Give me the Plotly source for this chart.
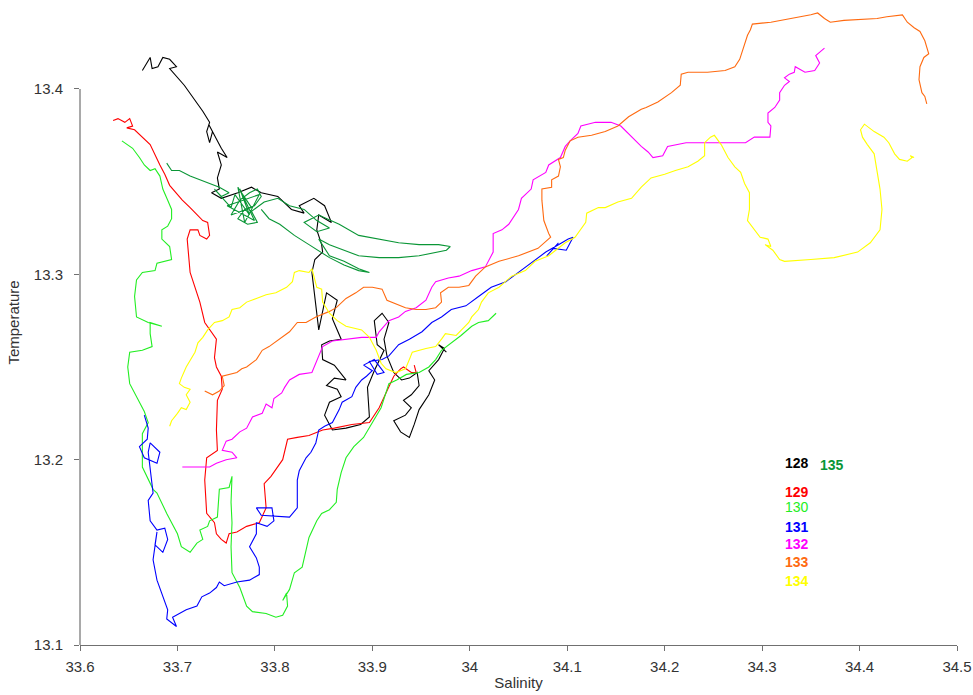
import plotly.graph_objects as go

# ---- data: salinity (x) / temperature (y) per station ----
s128 = [33.664,33.672,33.674,33.680,33.685,33.692,33.699,33.692,33.707,33.718,33.726,33.733,33.730,33.733,33.736,33.732,33.745,33.751,33.741,33.745,33.741,33.743,33.735,33.745,33.762,33.776,33.786,33.803,33.817,33.830,33.825,33.840,33.851,33.858,33.845,33.843,33.848,33.849,33.841,33.838,33.840,33.842,33.845,33.853,33.864,33.859,33.868,33.856,33.848,33.849,33.861,33.873,33.861,33.853,33.864,33.868,33.856,33.851,33.859,33.873,33.888,33.897,33.895,33.902,33.912,33.905,33.902,33.910,33.917,33.912,33.915,33.922,33.930,33.938,33.946,33.948,33.940,33.932,33.940,33.934,33.922,33.929,33.938,33.943,33.948,33.958,33.964,33.958,33.968,33.974,33.968,33.976]
t128 = [13.410,13.417,13.411,13.412,13.417,13.416,13.412,13.411,13.402,13.394,13.388,13.382,13.377,13.371,13.377,13.381,13.368,13.363,13.366,13.359,13.352,13.346,13.344,13.341,13.344,13.347,13.344,13.342,13.335,13.333,13.337,13.341,13.337,13.328,13.332,13.324,13.316,13.312,13.308,13.301,13.292,13.282,13.270,13.290,13.286,13.276,13.265,13.264,13.262,13.254,13.251,13.243,13.244,13.240,13.238,13.234,13.231,13.224,13.216,13.217,13.219,13.223,13.239,13.248,13.259,13.262,13.275,13.279,13.274,13.265,13.256,13.247,13.243,13.244,13.247,13.240,13.235,13.232,13.228,13.224,13.221,13.215,13.212,13.219,13.227,13.235,13.243,13.248,13.254,13.260,13.262,13.258]

s129 = [33.634,33.639,33.646,33.651,33.654,33.648,33.656,33.672,33.682,33.687,33.692,33.700,33.705,33.713,33.721,33.726,33.731,33.733,33.730,33.723,33.721,33.713,33.710,33.713,33.723,33.728,33.740,33.738,33.740,33.745,33.746,33.741,33.740,33.741,33.730,33.728,33.730,33.738,33.740,33.745,33.750,33.753,33.761,33.771,33.784,33.791,33.789,33.796,33.808,33.813,33.823,33.835,33.849,33.861,33.879,33.897,33.907,33.914,33.917,33.922,33.929,33.932,33.940,33.945,33.943]
t129 = [13.383,13.384,13.382,13.384,13.380,13.379,13.378,13.370,13.359,13.354,13.348,13.343,13.340,13.336,13.332,13.329,13.328,13.321,13.319,13.321,13.324,13.324,13.319,13.301,13.285,13.274,13.265,13.255,13.250,13.245,13.238,13.232,13.216,13.205,13.201,13.189,13.171,13.166,13.160,13.157,13.155,13.160,13.161,13.164,13.166,13.174,13.187,13.191,13.200,13.211,13.212,13.213,13.216,13.217,13.219,13.220,13.228,13.236,13.239,13.245,13.249,13.250,13.247,13.247,13.251]

s130 = [33.643,33.654,33.661,33.666,33.672,33.677,33.682,33.685,33.690,33.694,33.694,33.690,33.684,33.684,33.692,33.694,33.679,33.677,33.664,33.658,33.656,33.658,33.670,33.684,33.672,33.672,33.674,33.664,33.651,33.649,33.651,33.666,33.670,33.664,33.664,33.675,33.679,33.689,33.700,33.704,33.713,33.720,33.726,33.723,33.731,33.733,33.741,33.743,33.753,33.756,33.755,33.756,33.755,33.756,33.764,33.771,33.777,33.791,33.801,33.808,33.813,33.812,33.808,33.815,33.820,33.828,33.832,33.835,33.843,33.848,33.856,33.863,33.864,33.868,33.873,33.881,33.891,33.900,33.909,33.917,33.925,33.935,33.948,33.958,33.965,33.971,33.981,33.991,34.002,34.009,34.019,34.027]
t130 = [13.372,13.368,13.363,13.359,13.356,13.357,13.353,13.346,13.340,13.335,13.330,13.326,13.324,13.319,13.315,13.308,13.306,13.302,13.301,13.297,13.288,13.277,13.274,13.272,13.274,13.268,13.261,13.259,13.258,13.250,13.241,13.226,13.220,13.214,13.196,13.184,13.182,13.171,13.160,13.153,13.150,13.155,13.157,13.162,13.164,13.167,13.169,13.184,13.185,13.191,13.177,13.166,13.153,13.139,13.131,13.121,13.118,13.117,13.115,13.116,13.121,13.128,13.124,13.130,13.139,13.142,13.151,13.158,13.167,13.171,13.173,13.177,13.184,13.193,13.201,13.207,13.212,13.220,13.228,13.241,13.243,13.246,13.247,13.250,13.254,13.259,13.263,13.267,13.272,13.274,13.275,13.279]

s131 = [33.666,33.670,33.669,33.661,33.666,33.679,33.682,33.672,33.670,33.675,33.670,33.672,33.679,33.687,33.690,33.685,33.677,33.679,33.675,33.679,33.685,33.690,33.689,33.699,33.695,33.709,33.720,33.725,33.733,33.740,33.743,33.748,33.761,33.774,33.784,33.784,33.781,33.774,33.781,33.781,33.792,33.799,33.797,33.781,33.786,33.815,33.823,33.823,33.825,33.832,33.837,33.842,33.845,33.851,33.859,33.866,33.869,33.879,33.883,33.889,33.894,33.900,33.891,33.902,33.912,33.905,33.897,33.910,33.917,33.927,33.938,33.951,33.961,33.971,33.981,33.996,34.009,34.022,34.037,34.050,34.063,34.078,34.091,34.101,34.106,34.099,34.086,34.079,34.091]
t131 = [13.224,13.217,13.211,13.207,13.201,13.198,13.204,13.209,13.204,13.182,13.178,13.167,13.162,13.163,13.157,13.150,13.154,13.161,13.146,13.135,13.126,13.119,13.114,13.110,13.115,13.119,13.121,13.126,13.128,13.131,13.134,13.132,13.134,13.135,13.138,13.142,13.147,13.153,13.160,13.166,13.164,13.167,13.174,13.174,13.170,13.169,13.174,13.189,13.194,13.201,13.204,13.209,13.216,13.218,13.220,13.227,13.231,13.234,13.239,13.243,13.245,13.248,13.251,13.254,13.247,13.246,13.253,13.254,13.256,13.262,13.265,13.269,13.274,13.277,13.281,13.283,13.288,13.293,13.296,13.301,13.306,13.312,13.316,13.319,13.320,13.313,13.314,13.310,13.317]

s132 = [33.705,33.720,33.733,33.740,33.750,33.761,33.756,33.746,33.750,33.756,33.764,33.771,33.777,33.787,33.791,33.797,33.799,33.807,33.810,33.815,33.825,33.838,33.849,33.859,33.873,33.889,33.904,33.907,33.917,33.927,33.934,33.945,33.955,33.961,33.965,33.978,33.989,34.002,34.016,34.024,34.024,34.033,34.040,34.050,34.053,34.063,34.065,34.078,34.081,34.093,34.098,34.103,34.111,34.114,34.129,34.145,34.155,34.166,34.176,34.183,34.188,34.198,34.203,34.222,34.241,34.262,34.283,34.292,34.308,34.309,34.306,34.306,34.313,34.318,34.318,34.323,34.328,34.323,34.328,34.333,34.334,34.344,34.354,34.359,34.355,34.364]
t132 = [13.196,13.196,13.196,13.198,13.200,13.201,13.204,13.205,13.210,13.211,13.215,13.217,13.223,13.225,13.230,13.228,13.233,13.236,13.239,13.243,13.246,13.247,13.261,13.264,13.265,13.266,13.266,13.269,13.275,13.277,13.280,13.282,13.286,13.293,13.296,13.298,13.299,13.302,13.304,13.312,13.322,13.324,13.327,13.335,13.341,13.346,13.351,13.355,13.359,13.363,13.369,13.372,13.376,13.380,13.382,13.382,13.380,13.374,13.369,13.366,13.363,13.364,13.369,13.371,13.371,13.371,13.371,13.374,13.374,13.380,13.382,13.387,13.390,13.394,13.398,13.402,13.404,13.406,13.408,13.409,13.412,13.409,13.410,13.414,13.418,13.422]

s133 = [33.728,33.736,33.743,33.748,33.746,33.761,33.766,33.771,33.781,33.787,33.794,33.807,33.815,33.823,33.832,33.842,33.856,33.863,33.873,33.883,33.891,33.900,33.910,33.915,33.920,33.934,33.945,33.955,33.965,33.971,33.970,33.978,33.989,33.999,34.006,34.016,34.030,34.050,34.070,34.083,34.081,34.076,34.074,34.074,34.084,34.084,34.091,34.093,34.091,34.096,34.098,34.103,34.111,34.125,34.139,34.152,34.163,34.176,34.181,34.193,34.207,34.216,34.217,34.224,34.244,34.262,34.272,34.277,34.285,34.288,34.290,34.309,34.350,34.357,34.364,34.370,34.384,34.418,34.428,34.444,34.449,34.456,34.462,34.467,34.471,34.466,34.462,34.461,34.464,34.467,34.469]
t133 = [13.237,13.235,13.237,13.240,13.245,13.247,13.249,13.250,13.254,13.259,13.261,13.266,13.269,13.274,13.274,13.277,13.280,13.282,13.287,13.290,13.293,13.293,13.292,13.286,13.285,13.282,13.281,13.281,13.282,13.285,13.290,13.293,13.293,13.294,13.299,13.304,13.307,13.310,13.314,13.320,13.322,13.329,13.340,13.346,13.347,13.351,13.353,13.358,13.362,13.363,13.367,13.372,13.374,13.375,13.377,13.380,13.385,13.389,13.390,13.393,13.398,13.402,13.408,13.409,13.409,13.410,13.412,13.416,13.429,13.432,13.435,13.436,13.440,13.441,13.438,13.436,13.437,13.438,13.439,13.440,13.436,13.433,13.431,13.426,13.419,13.417,13.412,13.405,13.398,13.396,13.392]

s134 = [33.692,33.694,33.700,33.704,33.709,33.713,33.709,33.713,33.707,33.702,33.704,33.709,33.718,33.721,33.726,33.731,33.738,33.746,33.753,33.756,33.764,33.771,33.781,33.791,33.801,33.812,33.818,33.820,33.825,33.835,33.838,33.840,33.843,33.848,33.849,33.856,33.864,33.873,33.889,33.897,33.904,33.909,33.914,33.924,33.934,33.938,33.941,33.955,33.965,33.971,33.975,33.986,33.992,33.999,34.002,34.009,34.012,34.019,34.030,34.043,34.057,34.067,34.081,34.098,34.108,34.119,34.120,34.132,34.139,34.152,34.166,34.176,34.186,34.200,34.211,34.224,34.234,34.241,34.241,34.247,34.251,34.258,34.265,34.272,34.278,34.282,34.287,34.287,34.285,34.292,34.298,34.306,34.309,34.303,34.311,34.318,34.323,34.350,34.374,34.398,34.411,34.421,34.423,34.421,34.418,34.415,34.408,34.403,34.401,34.405,34.415,34.425,34.430,34.436,34.441,34.449,34.454,34.452,34.456]
t134 = [13.218,13.221,13.225,13.228,13.227,13.231,13.235,13.238,13.239,13.241,13.244,13.250,13.258,13.263,13.266,13.270,13.274,13.275,13.277,13.281,13.282,13.285,13.287,13.289,13.290,13.293,13.296,13.301,13.302,13.301,13.303,13.299,13.293,13.292,13.285,13.279,13.275,13.272,13.270,13.266,13.259,13.252,13.249,13.247,13.249,13.254,13.258,13.260,13.261,13.265,13.268,13.267,13.270,13.274,13.277,13.281,13.285,13.290,13.293,13.299,13.302,13.307,13.310,13.317,13.320,13.328,13.333,13.336,13.336,13.339,13.341,13.347,13.352,13.354,13.356,13.358,13.361,13.364,13.371,13.374,13.375,13.370,13.363,13.358,13.355,13.349,13.344,13.335,13.329,13.324,13.320,13.319,13.315,13.316,13.313,13.308,13.307,13.308,13.309,13.312,13.317,13.324,13.335,13.346,13.356,13.365,13.370,13.374,13.378,13.381,13.377,13.374,13.371,13.365,13.362,13.361,13.363,13.364,13.363]

s135 = [33.689,33.694,33.702,33.713,33.723,33.733,33.743,33.753,33.745,33.738,33.748,33.755,33.759,33.774,33.764,33.779,33.751,33.784,33.769,33.762,33.776,33.755,33.764,33.774,33.782,33.786,33.779,33.769,33.762,33.772,33.782,33.776,33.789,33.803,33.815,33.830,33.843,33.856,33.843,33.830,33.845,33.866,33.886,33.907,33.927,33.948,33.968,33.980,33.976,33.948,33.927,33.907,33.886,33.871,33.856,33.845,33.856,33.871,33.886,33.897,33.886,33.871,33.856,33.835,33.820,33.805,33.794,33.786]
t135 = [13.360,13.356,13.356,13.353,13.351,13.349,13.347,13.344,13.342,13.346,13.340,13.336,13.343,13.332,13.346,13.329,13.337,13.343,13.328,13.347,13.336,13.332,13.340,13.344,13.346,13.342,13.337,13.335,13.330,13.327,13.328,13.334,13.339,13.341,13.337,13.335,13.329,13.325,13.323,13.328,13.332,13.327,13.321,13.319,13.317,13.316,13.316,13.315,13.313,13.310,13.309,13.309,13.310,13.313,13.316,13.319,13.310,13.307,13.303,13.301,13.302,13.305,13.309,13.316,13.321,13.327,13.330,13.335]

stations = ["128", "129", "130", "131", "132", "133", "134", "135"]
colors = ["#000000", "#ff0000", "#22ee22", "#0000ff", "#ff00ff", "#ff6a10", "#ffff00", "#0a9636"]
sal = [s128, s129, s130, s131, s132, s133, s134, s135]
tem = [t128, t129, t130, t131, t132, t133, t134, t135]

x_ticks = [33.6, 33.7, 33.8, 33.9, 34.0, 34.1, 34.2, 34.3, 34.4, 34.5]
x_ticktext = ["33.6", "33.7", "33.8", "33.9", "34", "34.1", "34.2", "34.3", "34.4", "34.5"]
y_ticks = [13.1, 13.2, 13.3, 13.4]
y_ticktext = ["13.1", "13.2", "13.3", "13.4"]

# label positions (salinity, temperature) for station numbers
label_x = [34.336, 34.336, 34.336, 34.336, 34.336, 34.336, 34.336, 34.372]
label_y = [13.198, 13.1826, 13.1745, 13.1637, 13.1545, 13.1448, 13.1345, 13.197]

fig = go.Figure()
for name, s, t, c in zip(stations, sal, tem, colors):
    fig.add_trace(go.Scatter(x=s, y=t, mode="lines", name=name,
                             line=dict(color=c, width=1.1),
                             showlegend=False, hoverinfo="skip"))

font_axis = "Liberation Sans Narrow, Arial Narrow, Liberation Sans, Arial, sans-serif"
for name, c, lx, ly in zip(stations, colors, label_x, label_y):
    fig.add_annotation(x=lx, y=ly, text=name if name == "130" else "<b>%s</b>" % name,
                       showarrow=False, xanchor="center", yanchor="middle",
                       font=dict(family="Liberation Sans, Arial, sans-serif", size=14, color=c))

fig.add_shape(type="line", xref="paper", yref="y", x0=0, x1=0, y0=13.1, y1=13.4,
              line=dict(color="#707070", width=1.2))

fig.update_layout(
    width=973, height=695,
    margin=dict(l=80, r=16, t=0, b=50),
    paper_bgcolor="white", plot_bgcolor="white",
    xaxis=dict(range=[33.6, 34.5], tickvals=x_ticks, ticktext=x_ticktext,
               ticks="outside", ticklen=5, tickcolor="#707070",
               ticklabeloverflow="allow", ticklabelstandoff=3,
               showline=True, linecolor="#707070", linewidth=1.2,
               showgrid=False, zeroline=False,
               tickfont=dict(family=font_axis, size=15, color="#333333"),
               title=dict(text="Salinity", standoff=3,
                          font=dict(family=font_axis, size=15, color="#333333"))),
    yaxis=dict(range=[13.1, 13.448], tickvals=y_ticks, ticktext=y_ticktext,
               ticks="outside", ticklen=5, tickcolor="#707070",
               ticklabeloverflow="allow", ticklabelstandoff=8,
               showline=False, showgrid=False, zeroline=False,
               tickfont=dict(family=font_axis, size=15, color="#333333"),
               title=dict(text="Temperature", standoff=10,
                          font=dict(family=font_axis, size=15, color="#333333"))),
)

fig.write_html("out.html")
